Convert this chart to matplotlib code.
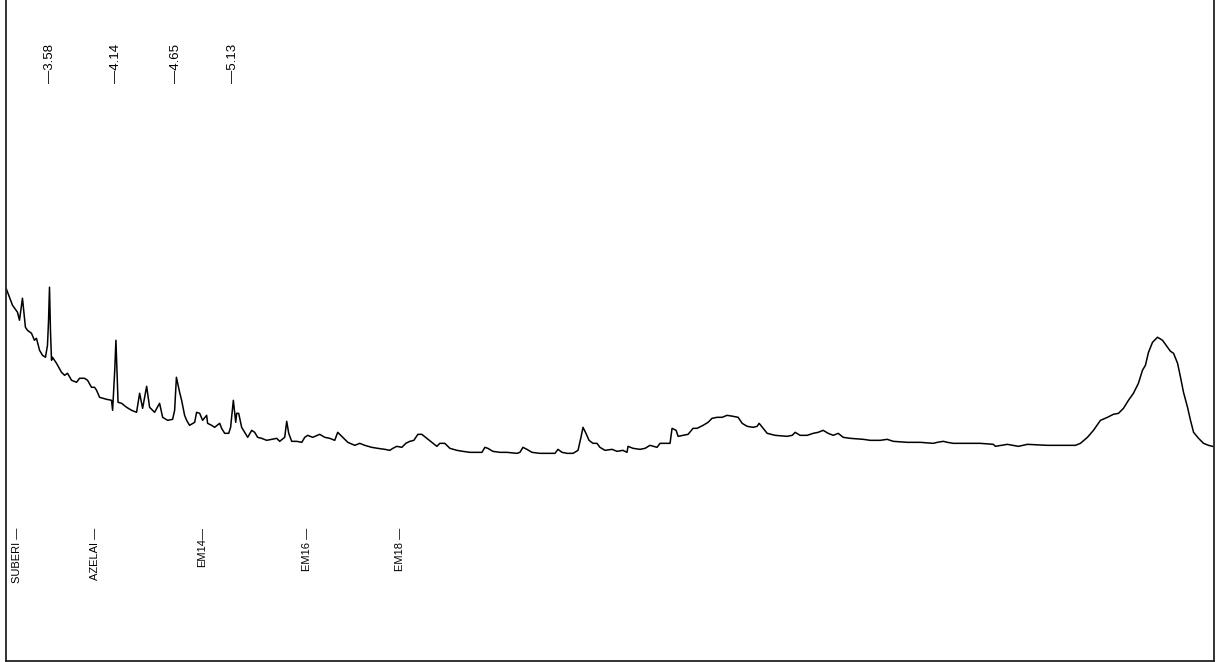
import matplotlib.pyplot as plt

# Retention time (min) and detector response of the trace
rt_min = [
    3.217, 3.268, 3.310, 3.327, 3.352, 3.377, 3.394, 3.428, 3.453, 3.470,
    3.496, 3.521, 3.546, 3.563, 3.572, 3.580, 3.588, 3.597, 3.605, 3.639,
    3.681, 3.707, 3.732, 3.766, 3.808, 3.833, 3.875, 3.901, 3.934, 3.960,
    3.977, 4.002, 4.061, 4.103, 4.112, 4.130, 4.140, 4.150, 4.158, 4.188,
    4.230, 4.272, 4.314, 4.340, 4.365, 4.399, 4.424, 4.466, 4.508, 4.534,
    4.576, 4.618, 4.635, 4.650, 4.677, 4.694, 4.719, 4.736, 4.761, 4.804,
    4.820, 4.846, 4.871, 4.905, 4.913, 4.947, 4.972, 5.015, 5.031, 5.057,
    5.091, 5.107, 5.130, 5.150, 5.158, 5.175, 5.200, 5.226, 5.251, 5.285,
    5.310, 5.335, 5.369, 5.411, 5.453, 5.496, 5.521, 5.563, 5.580, 5.597,
    5.622, 5.664, 5.707, 5.732, 5.757, 5.799, 5.858, 5.901, 5.943, 5.985,
    6.010, 6.053, 6.095, 6.154, 6.196, 6.238, 6.297, 6.348, 6.407, 6.449,
    6.475, 6.508, 6.551, 6.584, 6.618, 6.652, 6.686, 6.719, 6.761, 6.804,
    6.846, 6.871, 6.913, 6.956, 7.015, 7.065, 7.124, 7.183, 7.226, 7.251,
    7.276, 7.318, 7.378, 7.437, 7.521, 7.546, 7.572, 7.605, 7.648, 7.715,
    7.774, 7.842, 7.867, 7.901, 7.943, 7.994, 8.036, 8.061, 8.078, 8.103,
    8.129, 8.162, 8.196, 8.221, 8.264, 8.323, 8.365, 8.415, 8.449, 8.458,
    8.500, 8.559, 8.601, 8.643, 8.702, 8.728, 8.753, 8.812, 8.829, 8.863,
    8.880, 8.922, 8.964, 9.006, 9.040, 9.091, 9.133, 9.166, 9.209, 9.251,
    9.293, 9.344, 9.386, 9.420, 9.462, 9.513, 9.546, 9.563, 9.597, 9.631,
    9.698, 9.799, 9.842, 9.867, 9.909, 9.968, 10.019, 10.061, 10.103, 10.145,
    10.188, 10.230, 10.272, 10.331, 10.441, 10.500, 10.584, 10.643, 10.694, 10.812,
    10.922, 11.031, 11.065, 11.116, 11.150, 11.200, 11.242, 11.428, 11.538, 11.555,
    11.656, 11.749, 11.825, 11.993, 12.230, 12.272, 12.331, 12.382, 12.441, 12.500,
    12.550, 12.593, 12.635, 12.677, 12.719, 12.761, 12.795, 12.820, 12.846, 12.880,
    12.922, 12.964, 13.006, 13.031, 13.057, 13.091, 13.116, 13.141, 13.175, 13.200,
    13.226, 13.268, 13.310, 13.352, 13.386,
]
signal = [
    371, 355, 348, 340, 362, 333, 330, 327, 320, 322,
    310, 305, 303, 315, 340, 373, 330, 300, 303, 297,
    288, 285, 287, 280, 278, 282, 282, 280, 273, 273,
    270, 263, 261, 260, 250, 290, 320, 285, 258, 257,
    253, 250, 248, 267, 252, 274, 253, 248, 257, 243,
    240, 241, 250, 283, 268, 260, 245, 240, 235, 238,
    248, 247, 240, 245, 237, 235, 233, 237, 232, 227,
    227, 233, 260, 238, 247, 247, 233, 228, 223, 230,
    228, 223, 222, 220, 221, 222, 219, 223, 239, 227,
    219, 219, 218, 223, 225, 223, 226, 223, 222, 220,
    228, 223, 218, 215, 217, 215, 213, 212, 211, 210,
    212, 214, 213, 217, 219, 220, 226, 226, 222, 218,
    214, 217, 217, 212, 210, 209, 208, 208, 208, 213,
    212, 209, 208, 208, 207, 208, 213, 211, 208, 207,
    207, 207, 211, 208, 207, 207, 210, 223, 233, 227,
    220, 217, 217, 213, 210, 211, 209, 210, 208, 214,
    212, 211, 212, 215, 213, 217, 217, 217, 232, 230,
    224, 225, 226, 232, 232, 235, 238, 242, 243, 243,
    245, 244, 243, 237, 234, 233, 234, 237, 232, 227,
    225, 224, 225, 228, 225, 225, 227, 228, 230, 227,
    225, 227, 223, 222, 221, 220, 220, 221, 219, 218,
    218, 217, 218, 219, 218, 217, 217, 217, 216, 214,
    216, 214, 216, 215, 215, 217, 223, 230, 240, 243,
    246, 247, 252, 260, 267, 277, 290, 295, 308, 318,
    323, 320, 313, 309, 307, 297, 283, 268, 253, 240,
    228, 222, 217, 215, 214,
]

# Integrated peak apex times (top) and compound windows (bottom)
peak_rt = [3.58, 4.14, 4.65, 5.13]
compound_names = ["SUBERI \u2014", "AZELAI \u2014", "EM14\u2014", "EM16 \u2014", "EM18 \u2014"]
compound_rt = [3.302, 3.960, 4.871, 5.749, 6.534]

plt.rcParams['font.family'] = ['Liberation Sans', 'DejaVu Sans']

fig = plt.figure(figsize=(12.16, 6.62), dpi=100)
ax = fig.add_axes([5.5 / 1216, 1.5 / 662, 1208 / 1216, 660.5 / 662])

ax.plot(rt_min, signal, color='black', linewidth=1.1)

ax.set_xlim(3.209, 13.394)
ax.set_ylim(0, 660)

for rt in peak_rt:
    ax.text(rt, 577, "\u2014%.2f" % rt, rotation=90, ha='center', va='bottom',
            fontsize=9.5, color='black')

for name, rt in zip(compound_names, compound_rt):
    ax.text(rt, 133, name, rotation=90, ha='center', va='top',
            fontsize=8, color='black')

ax.set_xticks([])
ax.set_yticks([])
ax.spines['top'].set_visible(False)
for side in ['left', 'right', 'bottom']:
    ax.spines[side].set_linewidth(1.3)
    ax.spines[side].set_color('#222222')

fig.savefig('out.png', dpi=100, facecolor='white')
